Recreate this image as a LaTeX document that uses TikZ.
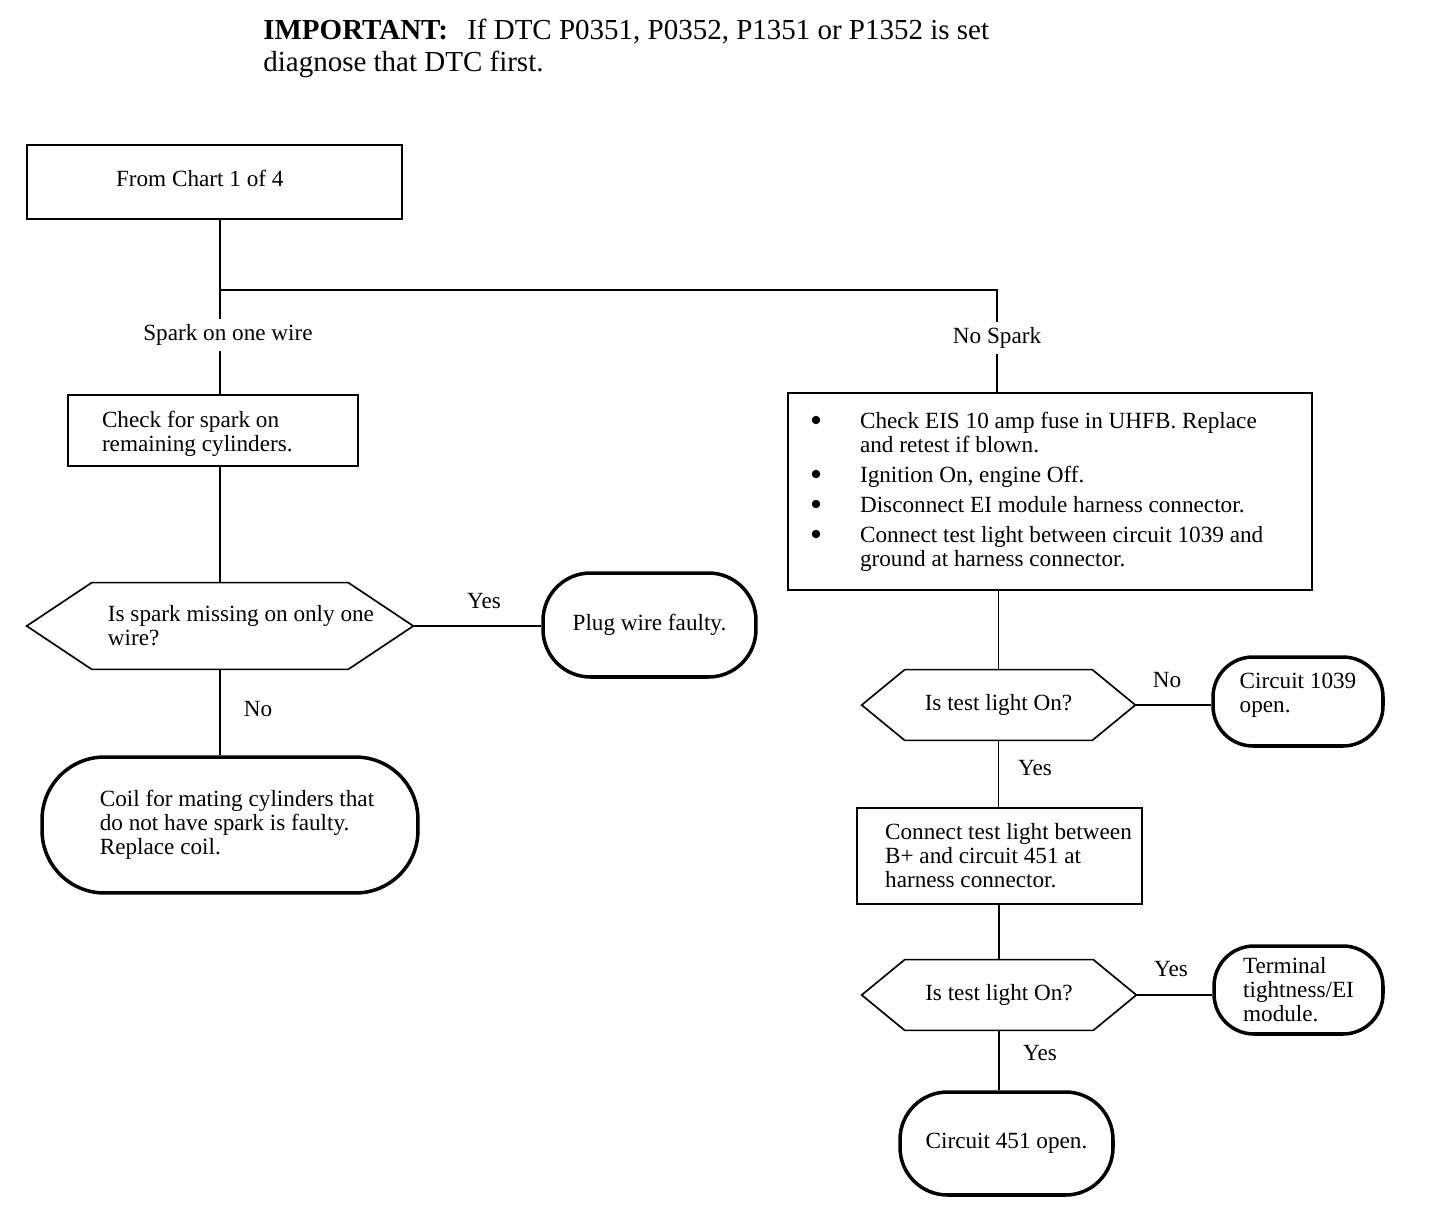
\documentclass[tikz,border=0pt]{standalone}
\usepackage{fontspec}
\setmainfont{Liberation Serif}
\newcommand{\chartfont}{\fontsize{13.2}{13.7}\selectfont}
\newcommand{\notefont}{\fontsize{16.5}{18.2}\selectfont}
\newcommand{\hexframe}[2]{\draw[line width=0.95pt] (#1.west) -- ([xshift=#2]#1.north west) -- ([xshift=-#2]#1.north east) -- (#1.east) -- ([xshift=-#2]#1.south east) -- ([xshift=#2]#1.south west) -- cycle;}
\tikzset{
  box/.style={draw, line width=1.1pt, inner sep=0pt, align=flush left, font=\chartfont},
  endbox/.style={draw, line width=2pt, rounded corners=#1, inner sep=0pt, align=flush left, font=\chartfont},
  ask/.style={inner sep=0pt, align=flush left, font=\chartfont},
  link/.style={line width=0.95pt},
  tag/.style={inner sep=3pt, font=\chartfont}
}

\begin{document}
\begin{tikzpicture}[x=0.02cm, y=-0.02cm]
	\useasboundingbox (0,0) rectangle (1440,1226);
	\node[anchor=north west, inner sep=0pt, align=left, font=\notefont] (note) at (263,19) {\makebox[4.08cm][l]{\textbf{IMPORTANT:}}If DTC P0351, P0352, P1351 or P1352 is set\\diagnose that DTC first.};
	\node[box, minimum width=7.5cm, minimum height=1.48cm, text width=3.94cm, text depth=0.16cm] (fromchart) at (214.5,182) {From Chart 1 of 4};
	\node[box, minimum width=5.8cm, minimum height=1.42cm, text width=4.44cm, text height=0.46cm] (sparkcheck) at (213,430.5) {Check for spark on\\remaining cylinders.};
	\node[ask, minimum width=7.72cm, minimum height=1.72cm] (missing) at (220,626) {\hspace*{0.84cm}Is spark missing on only one\\\hspace*{0.84cm}wire?};
	\hexframe{missing}{1.3cm}
	\node[endbox=0.95cm, minimum width=4.26cm, minimum height=2.08cm] (plugwire) at (649.5,625) {Plug wire faulty.};
	\node[endbox=1.25cm, minimum width=7.52cm, minimum height=2.72cm] (coil) at (230,825) {\hspace*{0.28cm}Coil for mating cylinders that\\\hspace*{0.28cm}do not have spark is faulty.\\\hspace*{0.28cm}Replace coil.};
	\node[box, minimum width=10.48cm, minimum height=3.94cm, text width=9.68cm] (steps) at (1050,491.5) {%
	  \hspace*{1.04cm}Check EIS 10 amp fuse in UHFB. Replace\\
	  \hspace*{1.04cm}and retest if blown.\\[3.4pt]
	  \hspace*{1.04cm}Ignition On, engine Off.\\[3.4pt]
	  \hspace*{1.04cm}Disconnect EI module harness connector.\\[3.4pt]
	  \hspace*{1.04cm}Connect test light between circuit 1039 and\\
	  \hspace*{1.04cm}ground at harness connector.};
	\foreach \y in {420,474,504,534}
	  \fill (816,\y) circle (0.085cm);
	\node[ask, minimum width=5.46cm, minimum height=1.4cm] (lightA) at (998.5,705) {Is test light On?};
	\hexframe{lightA}{0.86cm}
	\node[endbox=0.8cm, minimum width=3.4cm, minimum height=1.78cm, text depth=0.34cm] (open1039) at (1298,701.5) {Circuit 1039\\open.};
	\node[box, minimum width=5.7cm, minimum height=1.92cm] (connect) at (999.5,856) {\hspace*{0.36cm}Connect test light between\\\hspace*{0.36cm}B+ and circuit 451 at\\\hspace*{0.36cm}harness connector.};
	\node[ask, minimum width=5.48cm, minimum height=1.4cm] (lightB) at (999,995) {Is test light On?};
	\hexframe{lightB}{0.86cm}
	\node[endbox=0.8cm, minimum width=3.38cm, minimum height=1.76cm] (terminal) at (1298.5,990) {Terminal\\tightness/EI\\module.};
	\node[endbox=0.95cm, minimum width=4.26cm, minimum height=2.06cm] (open451) at (1006.5,1143.5) {Circuit 451 open.};
	\node[tag] (sparkone) at (228,335) {Spark on one wire};
	\node[tag] (nospark) at (997,338) {No Spark};
	\node[tag] (yesplug) at (484,601) {Yes};
	\node[tag] (nocoil) at (258,709) {No};
	\node[tag] (noopen) at (1167,680) {No};
	\node[tag] (yesconnect) at (1035,768) {Yes};
	\node[tag] (yesterminal) at (1171,969) {Yes};
	\node[tag] (yesopen) at (1040,1053) {Yes};
	\coordinate (split) at (220,290);
	\coordinate (splitR) at (997,290);
	\draw[link] (fromchart.south -| split) -- (split) -- (splitR) -- (nospark.north -| splitR);
	\draw[link] (nospark.south -| splitR) -- (steps.north -| splitR);
	\draw[link] (split) -- (sparkone.north -| split);
	\draw[link] (sparkone.south -| split) -- (sparkcheck.north -| split);
	\draw[link] (sparkcheck.south -| missing.north) -- (missing.north);
	\draw[link] (missing.east) -- (missing.east -| plugwire.west);
	\draw[link] (missing.south) -- (missing.south |- coil.north);
	\draw[link] (steps.south -| lightA.north) -- (lightA.north);
	\draw[link] (lightA.east) -- (lightA.east -| open1039.west);
	\draw[link] (lightA.south) -- (lightA.south |- connect.north);
	\draw[link] (connect.south -| lightB.north) -- (lightB.north);
	\draw[link] (lightB.east) -- (lightB.east -| terminal.west);
	\draw[link] (lightB.south) -- (lightB.south |- open451.north);
\end{tikzpicture}
\end{document}
